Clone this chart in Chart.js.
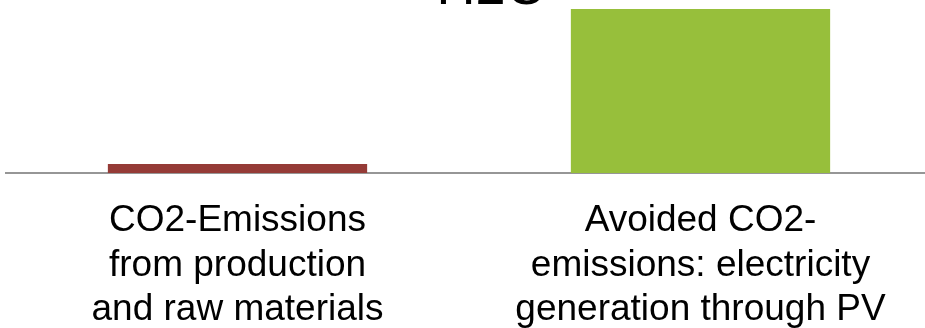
<!DOCTYPE html>
<html>
<head>
<meta charset="utf-8">
<script src="https://cdn.jsdelivr.net/npm/chart.js@4"></script>
<style>
  html, body { margin: 0; padding: 0; overflow: hidden; background: #fff; }
  .co2Chart { position: relative; width: 938px; height: 328px; }
</style>
</head>
<body>
<div class="co2Chart"><canvas></canvas></div>
<script>
const categories = [
  ['CO2-Emissions', 'from production', 'and raw materials'],
  ['Avoided CO2-', 'emissions: electricity', 'generation through PV']
]
const co2Values = [55, 1000]
const barColors = ['#953b37', '#97bf3b']
const titleText = 'H2O'

document.addEventListener('DOMContentLoaded', () => {
  // title sits mostly above the visible area, only its bottom edge shows
  const cutTitle = {
    id: 'cutTitle',
    afterDraw(chart) {
      const c = chart.ctx
      c.save()
      c.font = '54px "Liberation Sans", Arial, sans-serif'
      c.fillStyle = '#000'
      c.textAlign = 'center'
      c.textBaseline = 'alphabetic'
      c.fillText(titleText, 492, 4)
      c.restore()
    }
  }

  const config = {
    type: 'bar',
    data: {
      labels: categories,
      datasets: [
        {
          data: co2Values,
          backgroundColor: barColors,
          borderWidth: 0,
          categoryPercentage: 0.8,
          barPercentage: 0.7
        }
      ]
    },
    options: {
      responsive: true,
      maintainAspectRatio: false,
      animation: false,
      layout: {
        padding: { left: 6, right: 6, top: 0, bottom: -18 }
      },
      scales: {
        y: {
          display: false,
          min: 0,
          max: 1055
        },
        x: {
          grid: { display: false, drawTicks: false },
          border: { display: true, color: '#969696', width: 2 },
          ticks: {
            padding: 26,
            color: '#000',
            maxRotation: 0,
            autoSkip: false,
            font: { family: '"Liberation Sans", Arial, sans-serif', size: 37, lineHeight: 1.2 }
          }
        }
      },
      plugins: {
        legend: { display: false },
        tooltip: { enabled: false }
      }
    },
    plugins: [cutTitle]
  }

  const canvas = document.querySelector('.co2Chart canvas')
  new Chart(canvas.getContext('2d'), config)
})
</script>
</body>
</html>
